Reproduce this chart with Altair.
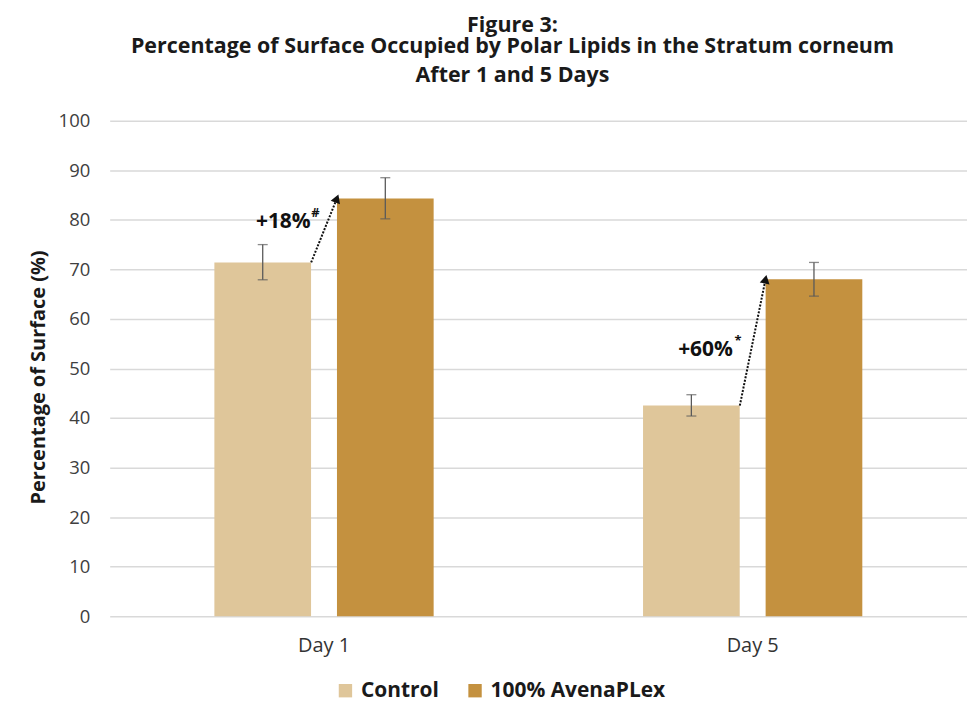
import altair as alt
import pandas as pd

# ---- data ----
days = ["Day 1", "Day 5"]
groups = ["Control", "100% AvenaPLex"]
control_vals = [71.4, 42.5]
control_lo = [67.9, 40.4]
control_hi = [75.0, 44.7]
avena_vals = [84.3, 68.0]
avena_lo = [80.2, 64.6]
avena_hi = [88.5, 71.4]
ann_labels = ["+18%", "+60%"]
ann_marks = ["#", "*"]
colors = ["#DFC69A", "#C4913F"]
y_ticks = [0, 10, 20, 30, 40, 50, 60, 70, 80, 90, 100]
title_lines = ["Figure 3:",
               "Percentage of Surface Occupied by Polar Lipids in the Stratum corneum"]
subtitle_text = "After 1 and 5 Days"

rows = []
for i, d in enumerate(days):
    rows.append({"day": d, "group": groups[0], "value": control_vals[i], "lo": control_lo[i], "hi": control_hi[i]})
    rows.append({"day": d, "group": groups[1], "value": avena_vals[i], "lo": avena_lo[i], "hi": avena_hi[i]})
df = pd.DataFrame(rows)

arrows = pd.DataFrame({"day": days, "start": control_vals, "end": avena_vals,
                       "label": ann_labels, "mark": ann_marks})

FONT = "Open Sans"
W, H = 860, 497

xscale = alt.Scale(domain=days, paddingInner=0, paddingOuter=0)
xoff_scale = alt.Scale(domain=groups, paddingInner=0.2114, paddingOuter=0.854)

base = alt.Chart(df)

bars = base.mark_bar().encode(
    x=alt.X("day:N", scale=xscale, sort=days,
            axis=alt.Axis(title=None, labelAngle=0, ticks=False, domain=False,
                          labelFontSize=20, labelColor="#333333", labelPadding=19,
                          labelFont=FONT)),
    xOffset=alt.XOffset("group:N", scale=xoff_scale, sort=groups),
    y=alt.Y("value:Q", scale=alt.Scale(domain=[0, 100]),
            axis=alt.Axis(title="Percentage of Surface (%)", values=y_ticks, ticks=False,
                          domain=False, grid=True, gridColor="#D9D9D9", gridWidth=1.5,
                          labelFontSize=18.5, labelColor="#404040", labelPadding=20,
                          labelFont=FONT, titleFont=FONT, titleFontSize=20,
                          titleFontWeight="bold", titleColor="#1a1a1a", titlePadding=10,
                          titleY=257)),
    color=alt.Color("group:N", sort=groups,
                    scale=alt.Scale(domain=groups, range=colors),
                    legend=alt.Legend(title=None, orient="none", direction="horizontal",
                                      legendX=226, legendY=561, symbolType="square",
                                      symbolSize=180, symbolStrokeWidth=0,
                                      labelFont=FONT, labelFontSize=21, labelLimit=400,
                                      labelFontWeight="bold", labelColor="#1a1a1a",
                                      labelOffset=5, columnPadding=25)),
)

err = base.mark_rule(color="#5a5a5a", strokeWidth=1.3).encode(
    x=alt.X("day:N", scale=xscale, sort=days),
    xOffset=alt.XOffset("group:N", scale=xoff_scale, sort=groups),
    y="lo:Q", y2="hi:Q",
)
cap_lo = base.mark_tick(color="#5a5a5a", thickness=1.3, size=10).encode(
    x=alt.X("day:N", scale=xscale, sort=days),
    xOffset=alt.XOffset("group:N", scale=xoff_scale, sort=groups),
    y="lo:Q",
)
cap_hi = base.mark_tick(color="#5a5a5a", thickness=1.3, size=10).encode(
    x=alt.X("day:N", scale=xscale, sort=days),
    xOffset=alt.XOffset("group:N", scale=xoff_scale, sort=groups),
    y="hi:Q",
)

arr_base = alt.Chart(arrows)
arrow_line = arr_base.mark_rule(color="#111111", strokeWidth=2, strokeDash=[2, 1.5]).encode(
    x=alt.X("day:N", scale=xscale, sort=days, bandPosition=0.47),
    x2=alt.X2("day:N", bandPosition=0.53),
    y="start:Q", y2="end:Q",
)

layers = [bars, err, cap_lo, cap_hi, arrow_line]

# per-annotation placement (style constants)
head_angles = [21, 12]
text_pos = [(0.405, 79.5, 28), (0.39, 53.7, 29)]
for i, d in enumerate(days):
    sub = arr_base.transform_filter(alt.datum.day == d)
    layers.append(sub.mark_point(shape="triangle-up", filled=True, color="#111111",
                                 opacity=1, size=100, angle=head_angles[i]).encode(
        x=alt.X("day:N", scale=xscale, sort=days, bandPosition=0.53),
        y="end:Q",
    ))
    tx, ty, sdx = text_pos[i]
    layers.append(sub.mark_text(font=FONT, fontSize=21, fontWeight="bold",
                                color="#111111", align="center", baseline="middle").encode(
        x=alt.X("day:N", scale=xscale, sort=days, bandPosition=tx),
        y=alt.datum(ty),
        text="label:N",
    ))
    layers.append(sub.mark_text(font=FONT, fontSize=13, fontWeight="bold",
                                color="#111111", align="left", baseline="middle",
                                dx=sdx, dy=-9).encode(
        x=alt.X("day:N", scale=xscale, sort=days, bandPosition=tx),
        y=alt.datum(ty),
        text="mark:N",
    ))

chart = alt.layer(*layers).properties(
    width=W, height=H,
    title=alt.TitleParams(
        text=title_lines,
        subtitle=subtitle_text,
        font=FONT, fontSize=21.5, fontWeight="bold", color="#1a1a1a", lineHeight=21.5,
        subtitleFont=FONT, subtitleFontSize=21.5, subtitleFontWeight="bold",
        subtitleColor="#1a1a1a", subtitlePadding=8,
        anchor="middle", offset=25, dx=-26),
    autosize=alt.AutoSizeParams(type="none"),
    padding={"left": 102, "top": 112, "right": 0, "bottom": 87},
).configure_view(stroke=None)

chart.save("out.html", embed_options={"renderer": "svg", "actions": False})
